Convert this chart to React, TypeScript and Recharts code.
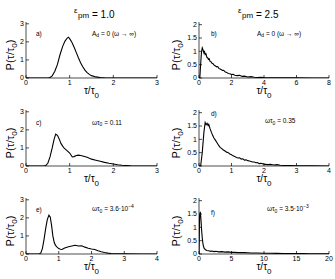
import { LineChart, Line, XAxis, YAxis } from 'recharts';

// panel a) eps_pm = 1.0, A_d = 0
const tauA = [0, 0.5, 0.55, 0.6, 0.66, 0.72, 0.78, 0.84, 0.89, 0.94, 0.97, 1.0, 1.05, 1.1, 1.15, 1.2, 1.25, 1.3, 1.35, 1.4, 1.45, 1.5, 1.6, 1.7, 1.8, 2.0, 3.0];
const probA = [0, 0, 0.03, 0.12, 0.37, 0.75, 1.3, 1.75, 2.03, 2.2, 2.26, 2.18, 1.98, 1.72, 1.42, 1.12, 0.85, 0.62, 0.44, 0.3, 0.2, 0.13, 0.06, 0.025, 0.01, 0, 0];

// panel b) eps_pm = 2.5, A_d = 0
const tauB = [0, 0.05, 0.1, 0.15, 0.2, 0.25, 0.3, 0.33, 0.38, 0.43, 0.48, 0.53, 0.58, 0.63, 0.68, 0.75, 0.8, 0.88, 0.95, 1.0, 1.08, 1.15, 1.22, 1.3, 1.38, 1.45, 1.52, 1.6, 1.7, 1.8, 1.9, 2.0, 2.1, 2.2, 2.35, 2.5, 2.65, 2.8, 3.0, 3.2, 3.4, 3.6, 3.8, 4.0, 4.5, 5, 6, 7, 8];
const probB = [0, 0, 0.5, 0.95, 1.13, 1.05, 0.95, 1.02, 0.88, 0.9, 0.78, 0.76, 0.7, 0.72, 0.62, 0.6, 0.55, 0.53, 0.47, 0.46, 0.42, 0.43, 0.36, 0.34, 0.31, 0.28, 0.29, 0.23, 0.21, 0.17, 0.16, 0.13, 0.14, 0.1, 0.09, 0.1, 0.06, 0.07, 0.04, 0.05, 0.03, 0.02, 0.03, 0.015, 0.01, 0.006, 0.003, 0.001, 0];

// panel c) eps_pm = 1.0, w tau0 = 0.11
const tauC = [0, 0.4, 0.45, 0.5, 0.55, 0.6, 0.64, 0.68, 0.72, 0.76, 0.8, 0.84, 0.88, 0.94, 1.0, 1.06, 1.1, 1.15, 1.2, 1.25, 1.3, 1.4, 1.5, 1.6, 1.7, 1.8, 1.9, 2.0, 2.1, 2.2, 2.3, 2.4, 3.0];
const probC = [0, 0, 0.02, 0.15, 0.5, 1.0, 1.45, 1.76, 1.7, 1.5, 1.25, 1.1, 0.97, 0.85, 0.72, 0.5, 0.52, 0.58, 0.6, 0.58, 0.55, 0.48, 0.38, 0.32, 0.26, 0.2, 0.15, 0.11, 0.07, 0.04, 0.02, 0.005, 0];

// panel d) eps_pm = 2.5, w tau0 = 0.35
const tauD = [0, 0.05, 0.1, 0.15, 0.19, 0.22, 0.25, 0.28, 0.3, 0.34, 0.38, 0.42, 0.46, 0.5, 0.55, 0.6, 0.65, 0.7, 0.75, 0.8, 0.85, 0.9, 0.95, 1.0, 1.05, 1.1, 1.15, 1.2, 1.25, 1.3, 1.35, 1.4, 1.45, 1.5, 1.55, 1.6, 1.65, 1.7, 1.75, 1.8, 1.85, 1.9, 2.0, 2.1, 2.2, 2.3, 2.4, 2.5, 2.6, 2.8, 3.0, 3.2, 3.5, 4];
const probD = [0, 0, 0.5, 1.25, 1.63, 1.55, 1.6, 1.52, 1.56, 1.4, 1.27, 1.15, 1.05, 0.98, 0.88, 0.78, 0.7, 0.65, 0.6, 0.56, 0.52, 0.5, 0.45, 0.42, 0.38, 0.36, 0.32, 0.3, 0.31, 0.26, 0.27, 0.22, 0.23, 0.2, 0.19, 0.17, 0.15, 0.15, 0.12, 0.13, 0.09, 0.1, 0.07, 0.05, 0.06, 0.04, 0.05, 0.03, 0.02, 0.015, 0.01, 0.008, 0.005, 0];

// panel e) eps_pm = 1.0, w tau0 = 3.6e-4
const tauE = [0, 0.4, 0.45, 0.5, 0.55, 0.6, 0.65, 0.7, 0.74, 0.78, 0.82, 0.86, 0.9, 0.95, 1.0, 1.05, 1.1, 1.15, 1.2, 1.3, 1.4, 1.5, 1.6, 1.7, 1.75, 1.8, 1.9, 2.0, 2.1, 2.2, 2.3, 2.4, 2.5, 2.6, 2.8, 3.0, 3.5, 4];
const probE = [0, 0, 0.05, 0.3, 0.8, 1.4, 1.9, 2.15, 2.05, 1.6, 1.0, 0.65, 0.48, 0.38, 0.3, 0.26, 0.25, 0.3, 0.35, 0.4, 0.44, 0.48, 0.44, 0.46, 0.42, 0.38, 0.32, 0.28, 0.25, 0.18, 0.12, 0.08, 0.05, 0.03, 0.015, 0.008, 0.003, 0];

// panel f) eps_pm = 2.5, w tau0 = 3.5e-3
const tauF = [0, 0.05, 0.1, 0.2, 0.3, 0.4, 0.5, 0.6, 0.7, 0.8, 1.0, 1.2, 1.5, 1.8, 2.0, 2.3, 2.6, 3.0, 3.5, 4, 4.5, 5, 5.5, 6, 7, 8, 9, 10, 11, 12, 13, 14, 15, 16, 17, 18, 19, 20];
const probF = [0, 0.8, 1.45, 1.58, 1.3, 0.9, 0.6, 0.4, 0.28, 0.21, 0.16, 0.13, 0.12, 0.1, 0.11, 0.09, 0.1, 0.08, 0.09, 0.07, 0.08, 0.06, 0.06, 0.05, 0.05, 0.04, 0.04, 0.03, 0.03, 0.025, 0.02, 0.02, 0.015, 0.015, 0.012, 0.01, 0.01, 0.008];

const ticks3 = [0, 1, 2, 3];
const ticks4 = [0, 1, 2, 3, 4];
const ticks8 = [0, 2, 4, 6, 8];
const ticks20 = [0, 5, 10, 15, 20];
const ticksP3 = [0, 1, 2, 3];
const ticksP2 = [0, 0.5, 1, 1.5, 2];

const FONT = '"Liberation Sans", Arial, Helvetica, sans-serif';

const zip = (ts: number[], ps: number[]) => ts.map((t, i) => ({ t, p: ps[i] }));

const XLabel = (props: any) => {
  const { x, y, width } = props.viewBox;
  return (
    <text x={x + width / 2} y={y + 15.5} textAnchor="middle" fontSize={10} fontFamily={FONT} fill="#000">
      τ/τ<tspan dy={4} fontSize={8}>0</tspan>
    </text>
  );
};

const makeYLabel = (off: number) => (props: any) => {
  const { x, y, width, height } = props.viewBox;
  const lx = x + width - off;
  const ly = y + height / 2 + 5;
  return (
    <text x={lx} y={ly} transform={`rotate(-90 ${lx} ${ly})`} textAnchor="middle" fontSize={11} fontFamily={FONT} fill="#000">
      P(τ/τ<tspan dy={3} fontSize={8}>0</tspan><tspan dy={-3}>)</tspan>
    </text>
  );
};

const panels = [
  { left: 26, top: 22, w: 131, yw: 26, off: 12, xDomain: [0, 3], xTicks: ticks3, yMax: 3.1, yTicks: ticksP3, data: zip(tauA, probA) },
  { left: 199, top: 22, w: 130, yw: 32, off: 19, xDomain: [0, 8], xTicks: ticks8, yMax: 2.1, yTicks: ticksP2, data: zip(tauB, probB) },
  { left: 26, top: 110, w: 131, yw: 26, off: 12, xDomain: [0, 3], xTicks: ticks3, yMax: 3.1, yTicks: ticksP3, data: zip(tauC, probC) },
  { left: 199, top: 110, w: 130, yw: 32, off: 19, xDomain: [0, 4], xTicks: ticks4, yMax: 2.1, yTicks: ticksP2, data: zip(tauD, probD) },
  { left: 26, top: 198, w: 131, yw: 26, off: 12, xDomain: [0, 4], xTicks: ticks4, yMax: 3.1, yTicks: ticksP3, data: zip(tauE, probE) },
  { left: 199, top: 198, w: 130, yw: 32, off: 19, xDomain: [0, 20], xTicks: ticks20, yMax: 2.1, yTicks: ticksP2, data: zip(tauF, probF) },
];

const H = 56;
const T = 6;
const R = 6;
const XH = 28;
const tickStyle = { fill: '#000', fontSize: 7, fontFamily: FONT };

function Panel({ cfg }: { cfg: (typeof panels)[number] }) {
  return (
    <div style={{ position: 'absolute', left: cfg.left - cfg.yw, top: cfg.top - T }}>
      <LineChart width={cfg.w + cfg.yw + R} height={H + T + XH} data={cfg.data} margin={{ top: T, right: R, left: 0, bottom: 0 }}>
        <XAxis dataKey="t" type="number" domain={cfg.xDomain} ticks={cfg.xTicks} allowDataOverflow interval={0}
          height={XH} tickSize={-3} tickMargin={5} stroke="#000" strokeWidth={0.7} tick={tickStyle}
          label={{ content: XLabel }} />
        <XAxis xAxisId="top" orientation="top" type="number" domain={cfg.xDomain} ticks={cfg.xTicks} allowDataOverflow
          interval={0} height={0} tickSize={-3} tick={false} stroke="#000" strokeWidth={0.7} />
        <YAxis type="number" domain={[0, cfg.yMax]} ticks={cfg.yTicks} allowDataOverflow interval={0}
          width={cfg.yw} tickSize={-3} tickMargin={5} stroke="#000" strokeWidth={0.7} tick={tickStyle}
          label={{ content: makeYLabel(cfg.off) }} />
        <YAxis yAxisId="right" orientation="right" type="number" domain={[0, cfg.yMax]} ticks={cfg.yTicks} allowDataOverflow
          interval={0} width={0} tickSize={-3} tick={false} stroke="#000" strokeWidth={0.7} />
        <Line dataKey="p" type="linear" stroke="#000" strokeWidth={1.1} dot={false} isAnimationActive={false} />
      </LineChart>
    </div>
  );
}

const ann = { fontSize: 6.5, fontFamily: FONT, fill: '#000' };

export default function App() {
  return (
    <div style={{ position: 'absolute', left: 0, top: 0, width: 335, height: 279, background: '#fff' }}>
      {panels.map((cfg, i) => (
        <Panel key={i} cfg={cfg} />
      ))}
      <svg width={335} height={279} style={{ position: 'absolute', left: 0, top: 0, pointerEvents: 'none' }}>
        <g fontFamily={FONT} fill="#000">
          <text x={74} y={13} fontSize={8}>ε</text>
          <text x={78} y={18} fontSize={8}>pm</text>
          <text x={92} y={18} fontSize={10}>= 1.0</text>
          <text x={238} y={13} fontSize={8}>ε</text>
          <text x={242} y={18} fontSize={8}>pm</text>
          <text x={256} y={18} fontSize={10}>= 2.5</text>
        </g>
        <text x={36} y={36} {...ann}>a)</text>
        <text x={92} y={35.5} {...ann}>A<tspan dy={1.5} fontSize={5}>d</tspan><tspan dy={-1.5}> = 0 (ω → ∞)</tspan></text>
        <text x={211} y={36} {...ann}>b)</text>
        <text x={257} y={35.5} {...ann}>A<tspan dy={1.5} fontSize={5}>d</tspan><tspan dy={-1.5}> = 0 (ω → ∞)</tspan></text>
        <text x={36} y={125} {...ann}>c)</text>
        <text x={92} y={124.5} {...ann}>ωτ<tspan dy={1.5} fontSize={5}>0</tspan><tspan dy={-1.5}> = 0.11</tspan></text>
        <text x={211} y={116} {...ann}>d)</text>
        <text x={265} y={123} {...ann}>ωτ<tspan dy={1.5} fontSize={5}>0</tspan><tspan dy={-1.5}> = 0.35</tspan></text>
        <text x={36} y={212} {...ann}>e)</text>
        <text x={92} y={211} {...ann}>ωτ<tspan dy={1.5} fontSize={5}>0</tspan><tspan dy={-1.5}> = 3.6·10</tspan><tspan dy={-3} fontSize={5}>−4</tspan></text>
        <text x={211} y={215} {...ann}>f)</text>
        <text x={267} y={211} {...ann}>ωτ<tspan dy={1.5} fontSize={5}>0</tspan><tspan dy={-1.5}> = 3.5·10</tspan><tspan dy={-3} fontSize={5}>−3</tspan></text>
      </svg>
    </div>
  );
}
